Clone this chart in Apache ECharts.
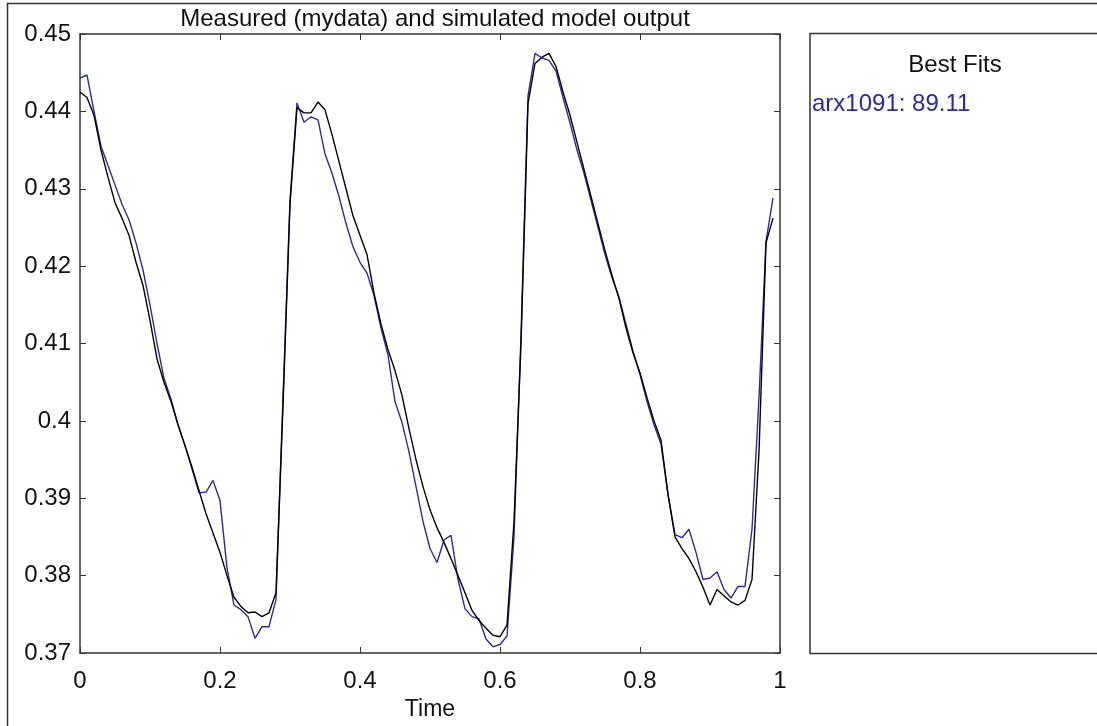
<!DOCTYPE html>
<html>
<head>
<meta charset="utf-8">
<script src="https://cdn.jsdelivr.net/npm/echarts@6/dist/echarts.min.js"></script>
<style>
  html, body { margin: 0; padding: 0; background: #fff; }
  #chart { width: 1097px; height: 726px; }
</style>
</head>
<body>
<div id="chart"></div>
<script>
const time = [
  0.00, 0.01, 0.02, 0.03, 0.04, 0.05, 0.06, 0.07, 0.08, 0.09,
  0.10, 0.11, 0.12, 0.13, 0.14, 0.15, 0.16, 0.17, 0.18, 0.19,
  0.20, 0.21, 0.22, 0.23, 0.24, 0.25, 0.26, 0.27, 0.28, 0.29,
  0.30, 0.31, 0.32, 0.33, 0.34, 0.35, 0.36, 0.37, 0.38, 0.39,
  0.40, 0.41, 0.42, 0.43, 0.44, 0.45, 0.46, 0.47, 0.48, 0.49,
  0.50, 0.51, 0.52, 0.53, 0.54, 0.55, 0.56, 0.57, 0.58, 0.59,
  0.60, 0.61, 0.62, 0.63, 0.64, 0.65, 0.66, 0.67, 0.68, 0.69,
  0.70, 0.71, 0.72, 0.73, 0.74, 0.75, 0.76, 0.77, 0.78, 0.79,
  0.80, 0.81, 0.82, 0.83, 0.84, 0.85, 0.86, 0.87, 0.88, 0.89,
  0.90, 0.91, 0.92, 0.93, 0.94, 0.95, 0.96, 0.97, 0.98, 0.99
];

// simulated model output (black)
const simulated = [
  0.4425, 0.4418, 0.4395, 0.4350, 0.4315, 0.4282, 0.4262, 0.4240, 0.4205, 0.4175,
  0.4130, 0.4080, 0.4050, 0.4025, 0.3995, 0.3968, 0.3940, 0.3910, 0.3880, 0.3855,
  0.3830, 0.3800, 0.3772, 0.3760, 0.3752, 0.3753, 0.3747, 0.3752, 0.3778, 0.4020,
  0.4280, 0.4405, 0.4398, 0.4398, 0.4412, 0.4402, 0.4370, 0.4335, 0.4300, 0.4265,
  0.4240, 0.4215, 0.4165, 0.4125, 0.4092, 0.4065, 0.4033, 0.3990, 0.3950, 0.3915,
  0.3885, 0.3862, 0.3843, 0.3822, 0.3800, 0.3778, 0.3755, 0.3742, 0.3732, 0.3723,
  0.3721, 0.3736, 0.3870, 0.4100, 0.4410, 0.4462, 0.4470, 0.4475, 0.4458, 0.4425,
  0.4395, 0.4360, 0.4325, 0.4290, 0.4255, 0.4220, 0.4188, 0.4158, 0.4120, 0.4088,
  0.4062, 0.4030, 0.4000, 0.3975, 0.3905, 0.3850, 0.3835, 0.3822, 0.3805, 0.3785,
  0.3762, 0.3782, 0.3774, 0.3766, 0.3762, 0.3768, 0.3795, 0.3960, 0.4230, 0.4262
];

// measured mydata (blue)
const measured = [
  0.4443, 0.4447, 0.4400, 0.4355, 0.4330, 0.4305, 0.4280, 0.4260, 0.4230, 0.4195,
  0.4150, 0.4100, 0.4055, 0.4028, 0.3995, 0.3968, 0.3938, 0.3907, 0.3908, 0.3923,
  0.3897, 0.3810, 0.3762, 0.3756, 0.3747, 0.3719, 0.3734, 0.3734, 0.3769, 0.4030,
  0.4285, 0.4411, 0.4386, 0.4393, 0.4389, 0.4345, 0.4320, 0.4290, 0.4255, 0.4225,
  0.4205, 0.4191, 0.4162, 0.4120, 0.4085, 0.4025, 0.3998, 0.3960, 0.3915, 0.3870,
  0.3835, 0.3817, 0.3846, 0.3852, 0.3795, 0.3757, 0.3747, 0.3744, 0.3718, 0.3708,
  0.3711, 0.3722, 0.3850, 0.4110, 0.4420, 0.4475, 0.4469, 0.4466, 0.4452, 0.4418,
  0.4385, 0.4350, 0.4320, 0.4285, 0.4250, 0.4215, 0.4185, 0.4160, 0.4125, 0.4090,
  0.4060, 0.4025, 0.3995, 0.3970, 0.3905, 0.3853, 0.3849, 0.3860, 0.3830, 0.3795,
  0.3797, 0.3805, 0.3782, 0.3771, 0.3786, 0.3786, 0.3860, 0.4030, 0.4232, 0.4288
];

const fitName = "arx1091";
const fitValue = "89.11";

const font = "'Liberation Sans', Arial, sans-serif";
const axisColor = "#333";
const blue = "#2b2b9e";

const chart = echarts.init(document.getElementById("chart"));

function axisCommon(extra) {
  return {
    axisLine: { show: true, onZero: false, lineStyle: { color: axisColor, width: 1.5 } },
    axisTick: { show: true, inside: true, length: 6, lineStyle: { color: axisColor, width: 1 } },
    splitLine: { show: false },
    ...extra,
  };
}

chart.setOption({
  animation: false,
  backgroundColor: "#fff",
  title: {
    text: "Measured (mydata) and simulated model output",
    left: 430,
    textAlign: "center",
    top: 2,
    textStyle: { fontFamily: font, fontSize: 24, fontWeight: "normal", color: "#111" },
  },
  grid: { left: 80, top: 34, width: 700, height: 619, containLabel: false },
  xAxis: [
    axisCommon({
      type: "value", min: 0, max: 1, interval: 0.2, position: "bottom",
      name: "Time", nameLocation: "middle", nameGap: 45,
      nameTextStyle: { fontFamily: font, fontSize: 23, color: "#111" },
      axisLabel: { fontFamily: font, fontSize: 24, color: "#111", margin: 16 },
    }),
    axisCommon({
      type: "value", min: 0, max: 1, interval: 0.2, position: "top",
      axisLabel: { show: false },
    }),
  ],
  yAxis: [
    axisCommon({
      type: "value", min: 0.37, max: 0.45, interval: 0.01, position: "left",
      axisLabel: { fontFamily: font, fontSize: 24, color: "#111", margin: 9 },
    }),
    axisCommon({
      type: "value", min: 0.37, max: 0.45, interval: 0.01, position: "right",
      axisLabel: { show: false },
    }),
  ],
  series: [
    {
      name: "mydata", type: "line", showSymbol: false, silent: true,
      data: time.map((t, i) => [t, measured[i]]),
      lineStyle: { color: blue, width: 1.4 },
    },
    {
      name: fitName, type: "line", showSymbol: false, silent: true,
      data: time.map((t, i) => [t, simulated[i]]),
      lineStyle: { color: "#000", width: 1.4 },
    },
  ],
  graphic: [
    {
      type: "rect", silent: true,
      shape: { x: 7.5, y: 3.5, width: 1200, height: 800 },
      style: { fill: "none", stroke: axisColor, lineWidth: 1.5 },
    },
    {
      type: "rect", silent: true,
      shape: { x: 810, y: 33.5, width: 400, height: 620 },
      style: { fill: "none", stroke: axisColor, lineWidth: 1.5 },
    },
    {
      type: "text", silent: true, x: 955, y: 65,
      style: { text: "Best Fits", font: "24px " + font, fill: "#111", align: "center", verticalAlign: "middle" },
    },
    {
      type: "text", silent: true, x: 812, y: 104,
      style: { text: `${fitName}: ${fitValue}`, font: "24px " + font, fill: blue, align: "left", verticalAlign: "middle" },
    },
  ],
});
</script>
</body>
</html>
